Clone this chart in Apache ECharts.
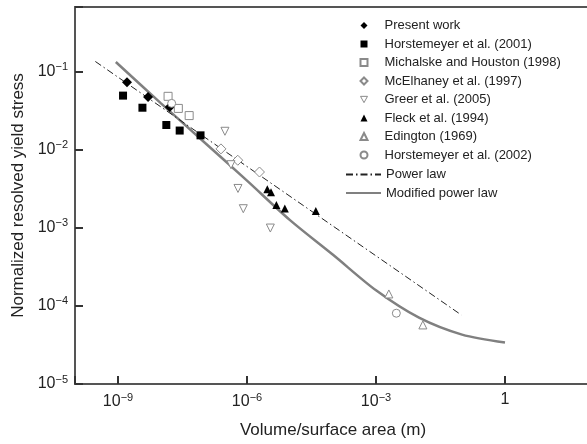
<!DOCTYPE html>
<html>
<head>
<meta charset="utf-8">
<script src="https://cdn.jsdelivr.net/npm/echarts@6/dist/echarts.min.js"></script>
<style>html,body{margin:0;padding:0;background:#fff}#c{width:587px;height:444px}</style>
</head>
<body>
<div id="c"></div>
<script>
// ---- data (x: volume/surface area in m, y: normalized resolved yield stress)
const presentWork = [[1.62e-9, 0.0729], [5.0e-9, 0.0472], [1.6e-8, 0.035]];
const horst2001 = [[1.31e-9, 0.049], [3.7e-9, 0.0343], [1.33e-8, 0.0206], [2.72e-8, 0.0175], [8.3e-8, 0.0152]];
const michalske = [[1.46e-8, 0.048], [2.53e-8, 0.0336], [4.52e-8, 0.0272]];
const mcelhaney = [[2.48e-7, 0.0102], [6.1e-7, 0.0073], [1.95e-6, 0.00516]];
const greer = [[3.07e-7, 0.01714], [4.24e-7, 0.0064], [6.17e-7, 0.00318], [8.2e-7, 0.00175], [3.49e-6, 0.00099]];
const fleck = [[2.97e-6, 0.00311], [3.62e-6, 0.00285], [4.82e-6, 0.00195], [7.57e-6, 0.00176], [3.99e-5, 0.00163]];
const edington = [[1.99e-3, 1.42e-4], [1.23e-2, 5.7e-5]];
const horst2002 = [[1.77e-8, 0.039], [2.97e-3, 8.05e-5]];
const powerLaw = [[2.97e-10, 0.134], [0.096, 7.66e-5]];
const modX = [8.9e-10, 1e-8, 1e-7, 1e-6, 1e-5, 1e-4, 1e-3, 1e-2, 1e-1, 1];
const modY = [0.132, 0.039, 0.0125, 0.004, 0.00125, 0.00045, 0.000158, 0.0000705, 0.0000428, 0.0000339];
const scatterNames = ['Present work', 'Horstemeyer et al. (2001)', 'Michalske and Houston (1998)',
  'McElhaney et al. (1997)', 'Greer et al. (2005)', 'Fleck et al. (1994)', 'Edington (1969)',
  'Horstemeyer et al. (2002)'];
const lineNames = ['Power law', 'Modified power law'];

const modified = modX.map((x, i) => [x, modY[i]]);

function supLabel(v, step) {
  const l = Math.log10(v);
  const e = Math.round(l);
  if (Math.abs(l - e) > 1e-6 || e % step !== 0) return '';
  if (e === 0) return '1';
  return '10{s|' + (e < 0 ? '\u2212' : '') + Math.abs(e) + '}';
}
const richSup = { s: { fontSize: 11, color: '#222', padding: [0, 0, 9, 0], fontFamily: 'Liberation Sans' } };

const filled = '#000';
const openC = '#8a8a8a';
const openStyle = { color: '#fff', borderColor: openC, borderWidth: 1, opacity: 1 };
function sc(name, data, symbol, open, rotate) {
  return {
    type: 'scatter', name, data, symbol, symbolSize: symbol === 'diamond' ? 10 : 8,
    symbolRotate: rotate || 0, z: 5,
    itemStyle: open ? openStyle : { color: filled, opacity: 1 }
  };
}
const legendText = { fontSize: 13, color: '#222', fontFamily: 'Liberation Sans' };

const chart = echarts.init(document.getElementById('c'));
chart.setOption({
  animation: false,
  textStyle: { fontFamily: 'Liberation Sans' },
  grid: { left: 75, right: -4, top: 7, bottom: 60, show: true, borderColor: '#555', borderWidth: 2,
          outerBoundsMode: 'none', containLabel: false },
  legend: [{
    orient: 'vertical', left: 354.5, top: 14, itemWidth: 7, itemHeight: 7, itemGap: 5.5,
    data: scatterNames.map(n => n === 'Greer et al. (2005)'
      ? { name: n, icon: 'path://M0,0L10,0L5,9Z', itemStyle: openStyle } : n),
    symbolKeepAspect: true,
    textStyle: Object.assign({ padding: [0, 0, 0, 12] }, legendText)
  }, {
    orient: 'vertical', left: 340, top: 163, itemWidth: 35, itemHeight: 8, itemGap: 5.5,
    data: lineNames.map(n => ({ name: n, itemStyle: { opacity: 0 } })),
    textStyle: Object.assign({ padding: [0, 0, 0, 0] }, legendText)
  }],
  xAxis: {
    type: 'log', logBase: 1000, min: 1e-10, max: 100,
    name: 'Volume/surface area (m)', nameLocation: 'middle', nameGap: 38,
    nameTextStyle: { fontSize: 17, color: '#222', fontFamily: 'Liberation Sans' },
    axisLine: { lineStyle: { color: '#555', width: 2 } },
    axisTick: { inside: true, length: 8, lineStyle: { color: '#333', width: 2 } },
    axisLabel: { fontSize: 16, color: '#222', margin: 8, formatter: v => supLabel(v, 3), rich: richSup },
    splitLine: { show: false }, minorTick: { show: false }
  },
  yAxis: {
    type: 'log', logBase: 10, min: 1e-5, max: 0.667,
    name: 'Normalized resolved yield stress', nameLocation: 'middle', nameGap: 48,
    nameTextStyle: { fontSize: 17, color: '#222', fontFamily: 'Liberation Sans' },
    axisLine: { lineStyle: { color: '#555', width: 2 } },
    axisTick: { inside: true, length: 8, lineStyle: { color: '#333', width: 2 } },
    axisLabel: { fontSize: 16, color: '#222', margin: 7, formatter: v => supLabel(v, 1), rich: richSup },
    splitLine: { show: false }, minorTick: { show: false }
  },
  series: [
    sc(scatterNames[0], presentWork, 'diamond', false),
    sc(scatterNames[1], horst2001, 'rect', false),
    sc(scatterNames[2], michalske, 'rect', true),
    sc(scatterNames[3], mcelhaney, 'diamond', true),
    sc(scatterNames[4], greer, 'triangle', true, 180),
    sc(scatterNames[5], fleck, 'triangle', false),
    sc(scatterNames[6], edington, 'triangle', true),
    sc(scatterNames[7], horst2002, 'circle', true),
    { type: 'line', name: lineNames[0], data: powerLaw, symbol: 'none', z: 3,
      lineStyle: { color: '#222', width: 1, type: [7, 3, 1.5, 3] }, itemStyle: { color: '#222' } },
    { type: 'line', name: lineNames[1], data: modified, symbol: 'none', smooth: 0.3, z: 2,
      lineStyle: { color: '#808080', width: 2.5 }, itemStyle: { color: '#808080' } }
  ]
});
</script>
</body>
</html>
